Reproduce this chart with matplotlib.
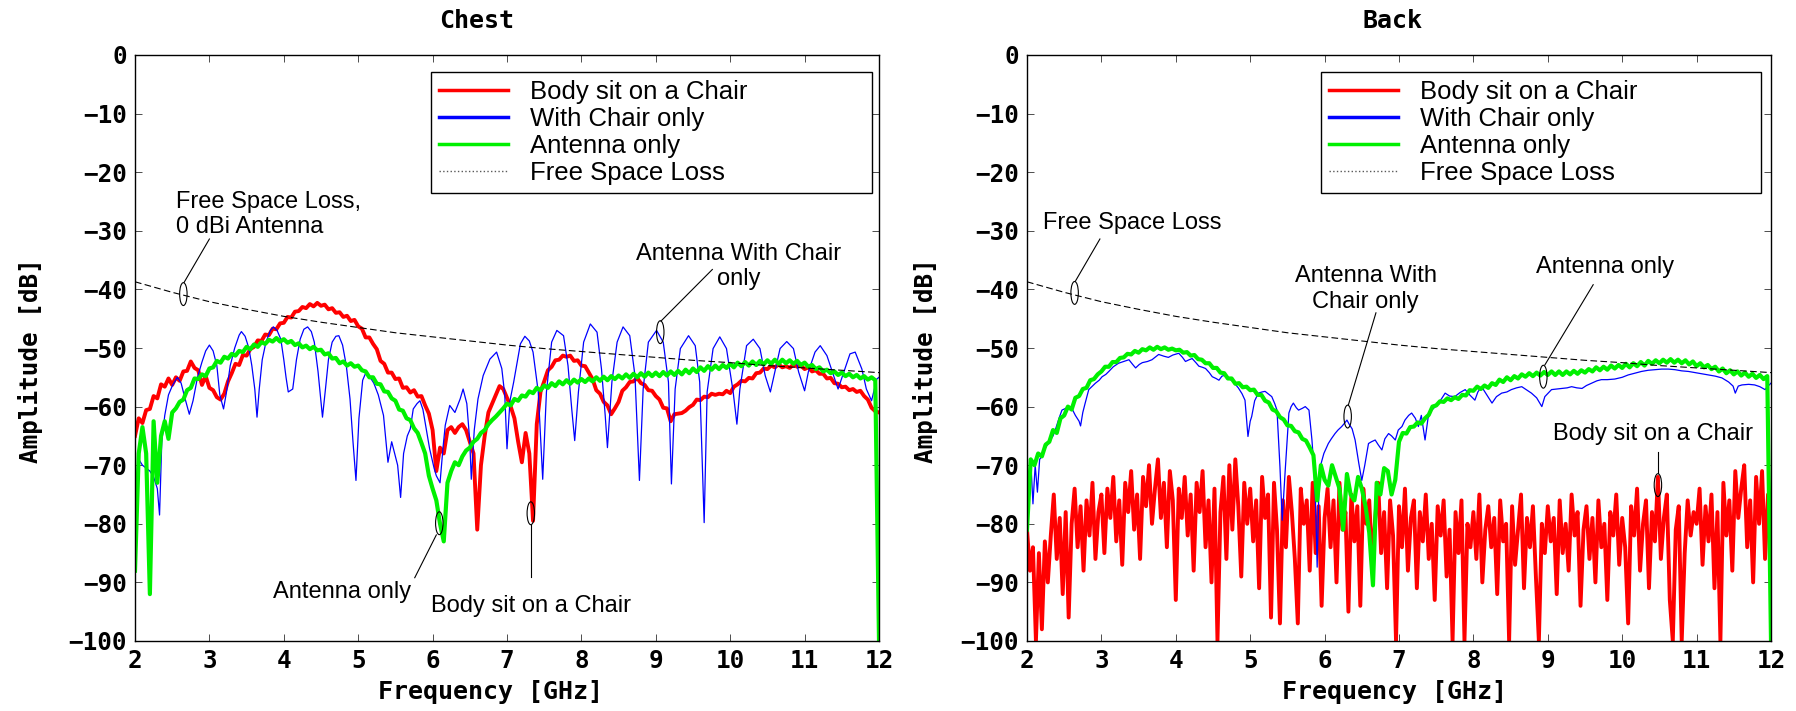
import numpy as np
import matplotlib
matplotlib.use("Agg")
import matplotlib.pyplot as plt
from matplotlib.patches import Ellipse
from matplotlib.lines import Line2D

# ---- data ----
series_names = ["Body sit on a Chair", "With Chair only", "Antenna only", "Free Space Loss"]

x_ticks = [2, 3, 4, 5, 6, 7, 8, 9, 10, 11, 12]
y_ticks = [0, -10, -20, -30, -40, -50, -60, -70, -80, -90, -100]
y_tick_labels = ["0", "\u221210", "\u221220", "\u221230", "\u221240", "\u221250",
                 "\u221260", "\u221270", "\u221280", "\u221290", "\u2212100"]

# free space loss (both panels), every 0.5 GHz
fsl_freq = [2.0, 2.5, 3.0, 3.5, 4.0, 4.5, 5.0, 5.5, 6.0, 6.5, 7.0,
            7.5, 8.0, 8.5, 9.0, 9.5, 10.0, 10.5, 11.0, 11.5, 12.0]
fsl_db = [-38.7, -40.5, -42.1, -43.4, -44.6, -45.6, -46.5, -47.4, -48.1, -48.8, -49.5,
          -50.1, -50.6, -51.1, -51.6, -52.1, -52.5, -53.0, -53.4, -53.8, -54.2]

# Chest: body on chair, 2..12 GHz every 0.05 GHz
chest_body = [
    -65.0, -62.0, -62.8, -60.6, -60.4, -58.2, -58.6, -56.2, -56.6, -55.2,
    -56.3, -55.0, -55.6, -54.0, -53.9, -52.3, -53.4, -53.8, -56.3, -54.8,
    -56.8, -57.2, -58.4, -58.8, -57.8, -55.7, -54.3, -52.7, -52.9, -51.2,
    -51.3, -50.2, -49.8, -48.7, -48.8, -47.7, -47.8, -46.7, -46.8, -45.8,
    -45.7, -44.7, -44.8, -43.8, -43.7, -43.0, -43.2, -42.5, -42.9, -42.3,
    -42.8, -42.6, -43.4, -43.2, -44.0, -43.9, -44.7, -44.5, -45.4, -45.2,
    -46.3, -46.7, -48.2, -48.2, -49.3, -50.2, -52.2, -52.7, -54.2, -54.2,
    -55.3, -55.2, -56.8, -56.7, -57.6, -57.2, -58.3, -58.2, -59.8, -61.2,
    -64.0, -71.0, -67.0, -68.0, -64.0, -63.5, -64.5, -63.5, -63.0, -64.0,
    -66.0, -68.0, -81.0, -70.0, -65.0, -61.0, -59.5, -58.0, -56.5, -57.0,
    -58.5, -60.0, -62.0, -66.0, -69.5, -64.5, -68.0, -79.5, -63.0, -57.5,
    -55.7, -53.8, -53.2, -52.1, -52.0, -51.3, -51.5, -51.3, -52.2, -52.1,
    -53.0, -53.1, -54.2, -55.3, -57.2, -57.8, -59.2, -59.8, -61.3, -60.3,
    -59.2, -57.3, -56.7, -55.8, -55.7, -55.1, -56.0, -56.3, -57.2, -57.3,
    -58.2, -58.8, -60.2, -60.3, -62.5, -61.3, -61.2, -61.1, -60.7, -60.1,
    -59.7, -58.8, -58.9, -58.3, -58.4, -57.8, -58.0, -57.8, -57.9, -57.3,
    -57.7, -56.6, -56.2, -55.6, -55.7, -55.1, -55.2, -54.3, -54.2, -53.5,
    -53.6, -53.0, -53.3, -52.8, -53.3, -53.1, -53.4, -52.8, -53.2, -53.0,
    -53.6, -53.3, -54.0, -53.8, -54.4, -54.4, -55.2, -55.1, -56.0, -56.1,
    -56.7, -56.6, -57.2, -57.0, -57.5, -57.3, -58.2, -58.8, -60.2, -60.8,
    -61.0]

# Chest: antenna only, every 0.05 GHz
chest_ant = [
    -88.0, -68.0, -63.5, -68.0, -92.0, -62.5, -73.0, -65.0, -62.5, -65.5,
    -61.0, -60.3, -59.2, -58.8, -57.2, -56.8, -55.2, -55.3, -54.5, -54.8,
    -53.5, -53.3, -52.2, -52.5, -51.5, -51.8, -51.0, -51.3, -50.5, -50.7,
    -49.8, -50.2, -49.4, -49.8, -49.0, -49.3, -48.6, -48.9, -48.3, -48.9,
    -48.5, -49.1, -48.8, -49.5, -49.2, -49.9, -49.6, -50.2, -49.8, -50.4,
    -50.3, -51.1, -50.9, -51.8, -51.7, -52.6, -52.3, -53.0, -52.6, -53.2,
    -53.0, -53.8, -54.0, -55.0, -55.0, -56.1, -56.2, -57.4, -57.5, -58.6,
    -59.0, -60.5, -60.7, -62.0, -62.3, -63.7, -64.5, -66.2, -68.0, -71.8,
    -74.0, -76.0, -80.0, -83.0, -73.0, -71.0, -69.5, -70.0, -68.5, -67.5,
    -67.0, -66.0, -65.5, -64.5, -64.0, -63.0, -62.3, -61.7, -61.0, -60.3,
    -59.5, -59.8, -58.7, -59.0, -58.1, -58.3, -57.4, -57.7, -56.8, -57.2,
    -56.4, -56.8, -56.0, -56.5, -55.7, -56.2, -55.5, -56.1, -55.4, -55.9,
    -55.3, -55.8, -55.2, -55.7, -55.0, -55.6, -54.9, -55.5, -54.8, -55.3,
    -54.7, -55.2, -54.5, -55.1, -54.4, -55.0, -54.3, -54.9, -54.2, -54.8,
    -54.2, -54.8, -54.1, -54.7, -54.0, -54.6, -53.9, -54.5, -53.7, -54.3,
    -53.5, -54.1, -53.3, -53.9, -53.1, -53.7, -53.0, -53.6, -52.9, -53.4,
    -52.7, -53.3, -52.5, -53.1, -52.4, -53.0, -52.3, -52.9, -52.2, -52.8,
    -52.1, -52.7, -52.0, -52.7, -52.0, -52.6, -52.1, -52.7, -52.2, -52.9,
    -52.5, -53.2, -52.9, -53.6, -53.3, -54.0, -53.7, -54.3, -54.0, -54.6,
    -54.2, -54.8, -54.4, -55.0, -54.6, -55.2, -54.8, -55.4, -55.0, -55.5,
    -100.0]

# Chest: with chair only (resonances, uneven sampling)
chest_chair_f = [
    2.00, 2.02, 2.05, 2.10, 2.15, 2.20, 2.25, 2.30, 2.33, 2.36, 2.40, 2.45, 2.50, 2.57,
    2.62, 2.67, 2.73, 2.78, 2.84, 2.90, 2.95, 3.00, 3.05, 3.10, 3.14, 3.19, 3.23, 3.28,
    3.34, 3.40, 3.43, 3.48, 3.53, 3.57, 3.61, 3.64, 3.67, 3.71, 3.76, 3.82, 3.86, 3.91,
    3.96, 4.00, 4.03, 4.06, 4.12, 4.17, 4.22, 4.27, 4.32, 4.37, 4.41, 4.46, 4.49, 4.52,
    4.56, 4.60, 4.65, 4.70, 4.74, 4.79, 4.84, 4.89, 4.93, 4.97, 5.01, 5.06, 5.11, 5.16,
    5.21, 5.27, 5.34, 5.40, 5.45, 5.50, 5.53, 5.57, 5.61, 5.66, 5.70, 5.74, 5.79, 5.83,
    5.87, 5.90, 5.96, 6.02, 6.05, 6.10, 6.14, 6.17, 6.23, 6.30, 6.37, 6.41, 6.46, 6.50,
    6.52, 6.56, 6.61, 6.68, 6.77, 6.86, 6.93, 6.97, 7.00, 7.04, 7.09, 7.18, 7.24, 7.30,
    7.35, 7.42, 7.48, 7.53, 7.60, 7.67, 7.76, 7.82, 7.87, 7.91, 7.96, 8.03, 8.12, 8.21,
    8.27, 8.32, 8.35, 8.41, 8.48, 8.56, 8.65, 8.72, 8.78, 8.83, 8.90, 9.01, 9.10, 9.17,
    9.21, 9.26, 9.33, 9.44, 9.53, 9.59, 9.65, 9.69, 9.77, 9.86, 9.95, 10.04, 10.09, 10.13,
    10.22, 10.31, 10.40, 10.47, 10.54, 10.60, 10.67, 10.76, 10.85, 10.92, 11.00, 11.05,
    11.14, 11.21, 11.30, 11.39, 11.45, 11.54, 11.61, 11.68, 11.77, 11.83, 11.90, 11.97,
    12.00]
chest_chair_db = [
    -69.0, -74.0, -69.0, -70.0, -70.5, -71.0, -72.0, -74.0, -78.5, -66.0, -61.5, -58.0, -56.5, -55.0,
    -56.0, -58.5, -61.3, -59.0, -55.0, -52.4, -50.5, -49.5, -50.5, -53.0, -58.0, -60.4, -57.5, -53.0,
    -50.0, -47.8, -47.2, -48.0, -50.0, -53.0, -57.0, -61.8, -57.0, -52.0, -49.0, -47.0, -46.4, -47.0,
    -48.5, -52.0, -55.0, -57.5, -57.0, -52.0, -48.5, -46.8, -46.4, -47.2, -49.0, -54.0, -58.0, -61.8,
    -57.0, -52.0, -49.0, -48.0, -47.9, -49.5, -53.0, -58.7, -66.0, -72.6, -62.0, -55.5, -54.0, -55.0,
    -56.0, -58.0, -61.5, -69.5, -66.0, -68.5, -70.0, -75.5, -68.0, -65.0, -63.8, -60.4, -59.5, -59.0,
    -60.5, -62.7, -67.2, -70.5, -71.8, -73.0, -67.0, -63.2, -59.8, -61.0, -58.7, -57.0, -59.5, -66.0,
    -72.4, -64.0, -58.7, -54.7, -51.9, -50.7, -53.5, -58.0, -67.2, -59.0, -55.8, -49.3, -48.0, -48.8,
    -50.7, -57.5, -72.4, -57.5, -49.0, -47.0, -47.9, -53.0, -60.4, -65.8, -57.5, -49.0, -45.9, -47.3,
    -53.6, -61.5, -67.0, -55.8, -49.0, -46.4, -47.9, -54.7, -72.6, -57.0, -49.0, -47.0, -49.0, -55.8,
    -73.2, -57.0, -50.1, -47.9, -49.6, -55.8, -79.8, -57.5, -50.1, -48.1, -50.1, -57.5, -63.0, -57.0,
    -49.6, -48.5, -50.1, -54.7, -57.5, -54.1, -50.1, -48.9, -50.1, -54.1, -57.3, -54.1,
    -50.7, -49.6, -51.3, -54.7, -57.0, -53.6, -51.0, -50.7, -53.6, -57.0, -59.0, -55.3,
    -55.0]

# Back: body on chair, every 0.04 GHz
back_body = [
    -81, -88, -84, -100, -85, -98, -83, -90, -82, -75, -86, -79, -92, -78, -96, -80, -74, -84, -77, -88, -76, -82, -73, -86, -78,
    -75, -85, -74, -79, -72, -83, -76, -87, -73, -78, -71, -81, -75, -86, -72, -77, -70, -80, -74, -69, -79, -73, -84, -71, -76,
    -93, -74, -79, -72, -82, -75, -88, -73, -78, -71, -84, -76, -90, -74, -100, -78, -72, -86, -70, -81, -69, -77, -89, -73, -80,
    -74, -83, -76, -91, -72, -79, -75, -96, -73, -81, -97, -76, -84, -72, -78, -86, -97, -74, -80, -76, -88, -73, -85, -77, -94,
    -79, -74, -84, -76, -90, -73, -81, -78, -95, -75, -83, -77, -94, -74, -80, -76, -87, -79, -73, -85, -78, -91, -76, -82, -100,
    -77, -84, -74, -88, -79, -76, -91, -78, -83, -75, -86, -80, -93, -77, -82, -76, -89, -81, -100, -78, -85, -76, -100, -80, -84,
    -78, -86, -75, -90, -81, -77, -84, -79, -92, -76, -83, -80, -100, -77, -87, -81, -75, -91, -79, -84, -77, -89, -100, -80, -85,
    -77, -83, -79, -92, -76, -85, -80, -88, -75, -82, -78, -94, -81, -77, -86, -79, -90, -76, -84, -80, -93, -78, -82, -75, -87,
    -79, -84, -97, -77, -82, -74, -88, -80, -76, -91, -78, -83, -72, -86, -79, -75, -93, -100, -81, -77, -100, -85, -76, -82, -78,
    -80, -74, -87, -77, -83, -75, -91, -78, -100, -73, -82, -76, -88, -71, -79, -74, -70, -84, -76, -90, -72, -80, -71, -86, -75,
    -79]

# Back: antenna only, every 0.05 GHz
back_ant = [
    -81.0, -69.0, -70.0, -68.0, -68.5, -66.5, -66.0, -64.0, -64.5, -62.0,
    -61.5, -60.0, -60.5, -58.5, -58.2, -57.0, -56.8, -55.5, -55.3, -54.5,
    -54.0, -53.2, -53.2, -52.4, -52.4, -51.7, -51.6, -51.0, -51.1, -50.5,
    -50.8, -50.2, -50.4, -49.9, -50.3, -49.8, -50.2, -49.9, -50.3, -50.1,
    -50.4, -50.3, -50.8, -50.7, -51.3, -51.2, -51.9, -52.0, -52.6, -52.6,
    -53.4, -53.4, -54.2, -54.3, -55.2, -55.2, -56.1, -56.0, -56.7, -56.6,
    -57.2, -57.1, -58.0, -58.0, -59.0, -59.3, -60.5, -60.8, -61.8, -62.2,
    -63.2, -63.3, -64.2, -64.4, -65.5, -65.8, -67.0, -68.3, -76.0, -70.0,
    -72.5, -73.5, -70.0, -72.0, -74.0, -81.0, -71.5, -75.0, -76.0, -72.0,
    -74.0, -77.0, -81.5, -90.5, -73.0, -75.0, -70.5, -71.0, -75.0, -72.5,
    -66.0, -64.5, -64.6, -63.5, -63.4, -62.7, -62.9, -62.0, -61.4, -60.0,
    -59.8, -59.1, -59.2, -58.6, -58.9, -58.4, -58.7, -58.0, -58.1, -57.2,
    -57.3, -56.6, -57.0, -56.4, -56.8, -56.0, -56.3, -55.4, -55.8, -55.0,
    -55.5, -54.8, -55.2, -54.5, -54.9, -54.3, -54.8, -54.2, -54.7, -54.1,
    -54.6, -54.0, -54.6, -54.0, -54.6, -54.0, -54.5, -53.9, -54.4, -53.8,
    -54.2, -53.6, -54.0, -53.3, -53.8, -53.2, -53.7, -53.0, -53.5, -52.9,
    -53.4, -52.7, -53.3, -52.6, -53.1, -52.4, -53.0, -52.2, -52.7, -52.1,
    -52.6, -52.0, -52.5, -51.9, -52.5, -52.0, -52.6, -52.1, -52.8, -52.3,
    -53.1, -52.6, -53.3, -52.9, -53.6, -53.2, -54.0, -53.5, -54.3, -53.8,
    -54.5, -54.0, -54.7, -54.2, -54.9, -54.4, -55.1, -54.6, -55.3, -54.8,
    -100.0]

# Back: with chair only
back_chair_f = [
    2.00, 2.02, 2.05, 2.08, 2.11, 2.14, 2.17, 2.20, 2.25, 2.30, 2.35, 2.38, 2.43, 2.47,
    2.52, 2.56, 2.61, 2.65, 2.70, 2.72, 2.75, 2.78, 2.83, 2.88, 2.92, 2.97, 3.01, 3.06,
    3.10, 3.16, 3.23, 3.30, 3.37, 3.42, 3.46, 3.51, 3.55, 3.62, 3.68, 3.73, 3.77, 3.84,
    3.90, 3.96, 4.04, 4.09, 4.13, 4.18, 4.22, 4.27, 4.31, 4.36, 4.40, 4.45, 4.49, 4.54,
    4.58, 4.62, 4.67, 4.72, 4.76, 4.80, 4.84, 4.89, 4.93, 4.97, 5.00, 5.02, 5.06, 5.11,
    5.16, 5.20, 5.25, 5.29, 5.33, 5.36, 5.40, 5.43, 5.47, 5.52, 5.55, 5.58, 5.62, 5.65,
    5.70, 5.74, 5.79, 5.83, 5.86, 5.88, 5.90, 5.92, 5.94, 5.99, 6.05, 6.09, 6.14, 6.18,
    6.23, 6.27, 6.30, 6.33, 6.37, 6.41, 6.46, 6.50, 6.54, 6.59, 6.63, 6.68, 6.72, 6.77,
    6.81, 6.86, 6.90, 6.95, 6.99, 7.04, 7.08, 7.13, 7.17, 7.22, 7.26, 7.30, 7.35, 7.39,
    7.44, 7.49, 7.53, 7.58, 7.62, 7.68, 7.75, 7.82, 7.89, 7.95, 8.02, 8.06, 8.11, 8.18,
    8.25, 8.31, 8.38, 8.45, 8.51, 8.58, 8.65, 8.72, 8.78, 8.85, 8.92, 8.96, 9.05, 9.12,
    9.19, 9.26, 9.32, 9.39, 9.46, 9.52, 9.59, 9.66, 9.72, 9.80, 9.90, 10.00, 10.08, 10.17,
    10.26, 10.35, 10.44, 10.53, 10.62, 10.71, 10.80, 10.89, 10.98, 11.07, 11.16, 11.25,
    11.34, 11.43, 11.49, 11.52, 11.56, 11.61, 11.70, 11.78, 11.85, 11.92, 11.96, 12.00]
back_chair_db = [
    -81.0, -77.0, -69.0, -76.6, -70.0, -74.6, -69.0, -68.5, -67.0, -66.0, -65.0, -64.0, -62.0, -60.6,
    -60.3, -60.0, -60.5, -61.5, -62.5, -63.3, -61.0, -59.5, -57.1, -56.5, -56.0, -55.5, -54.9, -54.5,
    -54.0, -53.2, -52.6, -52.3, -52.0, -52.8, -53.4, -52.8, -52.5, -52.3, -52.0, -51.5, -51.1, -51.4,
    -51.6, -51.2, -50.9, -51.6, -52.3, -52.0, -51.8, -52.5, -53.1, -53.3, -53.5, -54.2, -54.9, -55.2,
    -55.5, -54.8, -54.6, -55.3, -55.6, -56.2, -56.8, -57.8, -58.9, -65.1, -62.5, -61.7, -59.0, -57.7,
    -57.5, -57.4, -57.9, -58.3, -59.5, -60.6, -70.3, -79.4, -71.0, -61.1, -60.0, -59.4, -60.2, -60.6,
    -60.3, -60.0, -60.6, -65.7, -71.0, -77.1, -87.4, -76.0, -70.3, -68.0, -66.3, -65.5, -64.6, -64.0,
    -63.4, -62.8, -62.3, -63.0, -63.8, -65.7, -69.7, -72.6, -70.0, -66.3, -66.0, -65.7, -66.5, -67.4,
    -65.5, -64.6, -65.0, -65.7, -64.0, -63.4, -62.3, -61.5, -61.1, -62.0, -63.4, -61.5, -65.7, -62.0,
    -60.6, -60.0, -59.4, -58.5, -57.7, -58.2, -58.3, -57.6, -57.1, -58.0, -58.9, -57.5, -56.6, -58.0,
    -59.4, -58.3, -57.7, -57.5, -57.1, -56.8, -56.6, -57.2, -57.7, -58.5, -60.0, -58.3, -57.1, -57.0,
    -56.9, -56.8, -56.6, -56.8, -56.9, -56.4, -56.0, -55.6, -55.4, -55.4, -55.3, -55.0, -54.6, -54.3,
    -54.0, -53.8, -53.7, -53.6, -53.6, -53.7, -53.9, -54.0, -54.2, -54.4, -54.6, -54.8,
    -55.1, -55.8, -56.5, -57.7, -56.5, -56.3, -56.2, -56.3, -56.6, -57.1, -56.5, -56.0]

RED = "#ff0000"
BLUE = "#0000ff"
GREEN = "#00f000"

W, H = 1796, 711
fig = plt.figure(figsize=(W / 100, H / 100), dpi=100)
plt.rcParams["font.family"] = ["Liberation Sans", "DejaVu Sans"]

ax1 = fig.add_axes([135 / W, 70 / H, 744 / W, 586 / H])
ax2 = fig.add_axes([1027 / W, 70 / H, 744 / W, 586 / H])

mono = dict(family="DejaVu Sans Mono", weight="bold")


def draw_panel(ax, body, chair_f, chair_db, ant):
    fb = np.linspace(2, 12, len(body))
    fa = np.linspace(2, 12, len(ant))
    ax.plot(fb, body, color=RED, lw=2.8)
    ax.plot(chair_f, chair_db, color=BLUE, lw=0.9)
    ax.plot(fa, ant, color=GREEN, lw=3.0)
    ax.plot(fsl_freq, fsl_db, color="k", lw=0.8, dashes=(6, 3))

    ax.set_xlim(2, 12)
    ax.set_ylim(-100, 0)
    ax.set_xticks(x_ticks)
    ax.set_yticks(y_ticks)
    ax.set_xticklabels([str(t) for t in x_ticks], fontsize=17.5, **mono)
    ax.set_yticklabels(y_tick_labels, fontsize=17.5, **mono)
    ax.tick_params(direction="in", length=5, width=0.7, top=True, right=True,
                   color="0.3")
    ax.tick_params(axis="x", pad=6)
    ax.tick_params(axis="y", pad=6)
    for s in ax.spines.values():
        s.set_linewidth(1.0)


def ell(ax, x, y, w=0.1, h=3.9):
    ax.add_patch(Ellipse((x, y), w, h, fill=False, ec="k", lw=0.8, zorder=5))


def lead(ax, x0, y0, x1, y1):
    ax.plot([x0, x1], [y0, y1], color="k", lw=0.8, zorder=5)


draw_panel(ax1, chest_body, chest_chair_f, chest_chair_db, chest_ant)
draw_panel(ax2, back_body, back_chair_f, back_chair_db, back_ant)

handles = [Line2D([], [], color=RED, lw=2.5),
           Line2D([], [], color=BLUE, lw=2.5),
           Line2D([], [], color=GREEN, lw=2.5),
           Line2D([], [], color="0.35", lw=1.0, ls=":")]

for ax, x0, x1 in [(ax1, 0.398, 0.9906), (ax2, 0.395, 0.9866)]:
    leg = ax.legend(handles, series_names, loc="upper left",
                    bbox_to_anchor=(x0, 0.7384, x1 - x0, 0.9705 - 0.7384),
                    mode="expand", fontsize=18.5, handlelength=2.7,
                    handletextpad=0.85, labelspacing=0.12, borderpad=0.3,
                    borderaxespad=0, fancybox=False, framealpha=1)
    leg.get_frame().set_edgecolor("k")
    leg.get_frame().set_linewidth(1.0)

ann = dict(fontsize=17, color="k")

# Chest annotations
ell(ax1, 2.65, -40.8)
lead(ax1, 2.66, -38.8, 3.0, -31.4)
ax1.text(2.55, -27.2, "Free Space Loss,\n0 dBi Antenna", ha="left", va="center", **ann)
ell(ax1, 9.06, -47.3)
lead(ax1, 9.07, -45.4, 9.76, -36.6)
ax1.text(10.11, -36.1, "Antenna With Chair\nonly", ha="center", va="center",
         multialignment="center", **ann)
ell(ax1, 6.09, -79.9)
lead(ax1, 6.05, -81.9, 5.76, -89.2)
ax1.text(3.86, -91.6, "Antenna only", ha="left", va="center", **ann)
ell(ax1, 7.32, -78.2)
lead(ax1, 7.32, -80.2, 7.32, -89.1)
ax1.text(5.98, -94.0, "Body sit on a Chair", ha="left", va="center", **ann)

# Back annotations
ell(ax2, 2.64, -40.6)
lead(ax2, 2.65, -38.6, 2.98, -31.4)
ax2.text(2.22, -28.7, "Free Space Loss", ha="left", va="center", **ann)
ell(ax2, 6.31, -61.7)
lead(ax2, 6.32, -59.7, 6.69, -44.0)
ax2.text(6.55, -39.9, "Antenna With\nChair only", ha="center", va="center",
         multialignment="center", **ann)
ell(ax2, 8.94, -54.9)
lead(ax2, 8.96, -52.9, 9.61, -39.2)
ax2.text(8.84, -36.1, "Antenna only", ha="left", va="center", **ann)
ell(ax2, 10.48, -73.4)
lead(ax2, 10.48, -71.4, 10.48, -67.7)
ax2.text(9.07, -64.6, "Body sit on a Chair", ha="left", va="center", **ann)

# titles and axis labels
fig.text(477 / W, 1 - 20.6 / H, "Chest", ha="center", va="center", fontsize=18, **mono)
fig.text(1393 / W, 1 - 20.6 / H, "Back", ha="center", va="center", fontsize=18, **mono)
for xc, ylx in [(491, 31), (1395, 925.5)]:
    fig.text(xc / W, 1 - 692 / H, "Frequency [GHz]", ha="center", va="center",
             fontsize=18, **mono)
    fig.text(ylx / W, 1 - 360.6 / H, "Amplitude [dB]", ha="center", va="center",
             rotation=90, fontsize=17.5, **mono)

fig.savefig("out.png", dpi=100)
